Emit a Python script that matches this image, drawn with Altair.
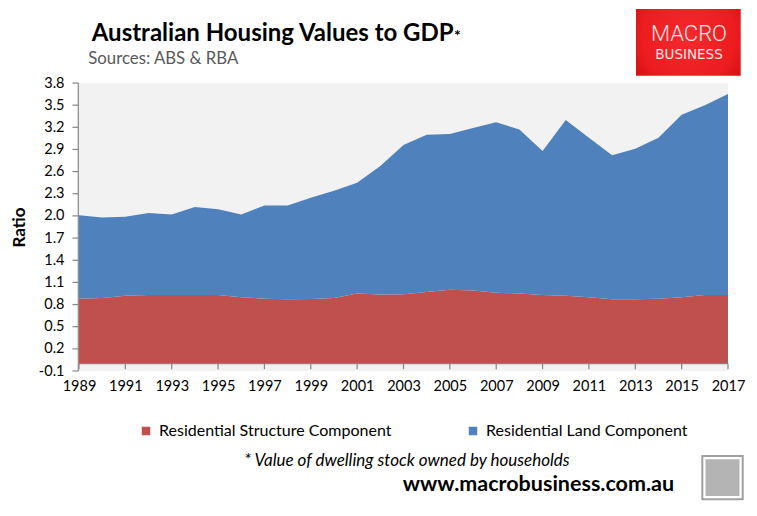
import altair as alt
import pandas as pd

# ---- data ----
years = list(range(1989, 2018))
structure = [0.88, 0.89, 0.92, 0.93, 0.93, 0.93, 0.93, 0.90, 0.88, 0.87,
             0.875, 0.89, 0.95, 0.935, 0.94, 0.97, 1.00, 0.99, 0.96, 0.95,
             0.93, 0.92, 0.90, 0.87, 0.87, 0.88, 0.90, 0.93, 0.93]
land = [1.13, 1.09, 1.07, 1.11, 1.09, 1.19, 1.16, 1.12, 1.26, 1.27,
        1.37, 1.45, 1.50, 1.74, 2.02, 2.13, 2.11, 2.20, 2.31, 2.22,
        1.95, 2.38, 2.16, 1.95, 2.04, 2.18, 2.47, 2.57, 2.72]
series = ["Residential Structure Component", "Residential Land Component"]
colors = ["#C0504D", "#4F81BD"]
x_ticks = [1989, 1991, 1993, 1995, 1997, 1999, 2001, 2003, 2005, 2007,
           2009, 2011, 2013, 2015, 2017]
y_ticks = [-0.1, 0.2, 0.5, 0.8, 1.1, 1.4, 1.7, 2.0, 2.3, 2.6, 2.9, 3.2, 3.5, 3.8]

rows = []
for i, y in enumerate(years):
    rows.append({"year": y, "series": series[0], "value": structure[i], "order": 0})
    rows.append({"year": y, "series": series[1], "value": land[i], "order": 1})
df = pd.DataFrame(rows)

FONT = "Lato"
AXIS_GREY = "#868686"

xscale = alt.Scale(domain=[1989, 2017], nice=False, zero=False)
yscale = alt.Scale(domain=[-0.1, 3.8], nice=False, zero=False)

xaxis = alt.Axis(values=x_ticks, format="d", ticks=False, tickSize=0,
                 domain=False, grid=False, labelPadding=8,
                 labelFontSize=14.5, labelColor="#000000",
                 labelFlush=False, labelOverlap=False, title=None)
yaxis = alt.Axis(values=y_ticks, grid=False, zindex=1,
                 labelExpr="replace(format(datum.value, '.1f'), '\u2212', '-')",
                 domain=False, ticks=False, tickSize=6, labelPadding=15,
                 labelFontSize=14.5, labelColor="#000000", labelFlush=False,
                 labelOverlap=False,
                 title="Ratio", titleFontSize=17, titleFontWeight="bold",
                 titleColor="#000000", titleAngle=270,
                 titleX=-60, titleY=144, titleAlign="center",
                 titleBaseline="middle")

area = alt.Chart(df).mark_area(interpolate="linear").encode(
    x=alt.X("year:Q", scale=xscale, axis=xaxis),
    y=alt.Y("value:Q", stack="zero", scale=yscale, axis=yaxis),
    color=alt.Color("series:N", scale=alt.Scale(domain=series, range=colors),
                    legend=alt.Legend(orient="none", legendX=59, legendY=340,
                                      direction="horizontal", title=None,
                                      symbolType="square", symbolSize=72,
                                      symbolStrokeWidth=0, labelFontSize=16,
                                      labelColor="#000000", labelOffset=5,
                                      labelLimit=0,
                                      columnPadding=73, padding=0)),
    order=alt.Order("order:Q", sort="ascending"),
)

# x axis line drawn at value 0, as in the reference, with its ticks
axis_line = alt.Chart(pd.DataFrame({"year": [1989], "year2": [2017], "value": [0.0]})).mark_rule(
    color=AXIS_GREY, strokeWidth=1.2).encode(
    x=alt.X("year:Q", scale=xscale, axis=xaxis), x2="year2:Q",
    y=alt.Y("value:Q", scale=yscale, axis=yaxis))

tick_df = pd.DataFrame({"year": x_ticks, "value": [0.0] * len(x_ticks),
                        "value2": [-0.075] * len(x_ticks)})
ticks = alt.Chart(tick_df).mark_rule(color=AXIS_GREY, strokeWidth=1.2).encode(
    x=alt.X("year:Q", scale=xscale, axis=xaxis),
    y=alt.Y("value:Q", scale=yscale, axis=yaxis), y2="value2:Q")

# y axis line and its ticks (just left of the plot area)
yline = alt.Chart(pd.DataFrame({"value": [-0.1], "value2": [3.8]})).mark_rule(
    color=AXIS_GREY, strokeWidth=1.2).encode(
    x=alt.value(-0.7), y=alt.Y("value:Q", scale=yscale, axis=yaxis), y2="value2:Q")
yticks = alt.Chart(pd.DataFrame({"value": y_ticks})).mark_rule(
    color=AXIS_GREY, strokeWidth=1.2).encode(
    x=alt.value(-6.5), x2=alt.value(-0.7), y=alt.Y("value:Q", scale=yscale, axis=yaxis))

one = alt.Data(values=[{}])


def txt(text, x, y, size, weight="normal", color="#000000", align="left",
        style="normal", font=FONT):
    return alt.Chart(one).mark_text(
        text=text, fontSize=size, fontWeight=weight, color=color, align=align,
        baseline="alphabetic", fontStyle=style, font=font).encode(
        x=alt.value(x), y=alt.value(y))


title = txt("Australian Housing Values to GDP", 12.7, -42.3, 24, weight="bold")
star = txt("*", 375, -42.3, 16, weight="bold")
subtitle = txt("Sources: ABS & RBA", 9.3, -18.7, 16.8, color="#595959")

logo = alt.Chart(one).mark_rect(
    color={"gradient": "radial", "x1": 0.5, "y1": 0.45, "r1": 0.0,
           "x2": 0.5, "y2": 0.45, "r2": 0.75,
           "stops": [{"offset": 0, "color": "#F42A2C"},
                     {"offset": 0.6, "color": "#EC1C1F"},
                     {"offset": 1, "color": "#C70508"}]}).encode(
    x=alt.value(557), x2=alt.value(661.7), y=alt.value(-74), y2=alt.value(-7.3))
logo_t1 = txt("MACRO", 610, -42, 22, weight=300, color="#FCE4E4", align="center",
              font="Roboto")
logo_t2 = txt("BUSINESS", 610, -23.7, 13.5, weight="normal", color="#FCE4E4",
              align="center", font="DejaVu Sans")

footnote = txt("* Value of dwelling stock owned by households", 328, 383, 17,
               style="italic", align="center")
website = txt("www.macrobusiness.com.au", 459.5, 407.7, 21.5, weight="bold",
              align="center")

wolf = alt.Chart(one).mark_rect(fill="#FFFFFF", stroke="#A0A0A0", strokeWidth=2).encode(
    x=alt.value(623.3), x2=alt.value(663.7), y=alt.value(373), y2=alt.value(416.3))
wolf_in = alt.Chart(one).mark_rect(fill="#B4B4B4").encode(
    x=alt.value(626.5), x2=alt.value(660.5), y=alt.value(376.2), y2=alt.value(413.1))

chart = alt.layer(
    area, axis_line, ticks, yline, yticks, title, star, subtitle, logo,
    logo_t1, logo_t2, footnote, website, wolf, wolf_in
).properties(
    width=649, height=288,
    autosize=alt.AutoSizeParams(type="none"),
    padding={"left": 71, "top": 75, "right": 21, "bottom": 137},
    background="#FFFFFF",
).configure(font=FONT).configure_view(fill="#F2F2F2", strokeWidth=0
).configure_axis(labelOverlap=False, labelFlush=False)

chart.save("out.html", embed_options={"renderer": "svg", "actions": False})
